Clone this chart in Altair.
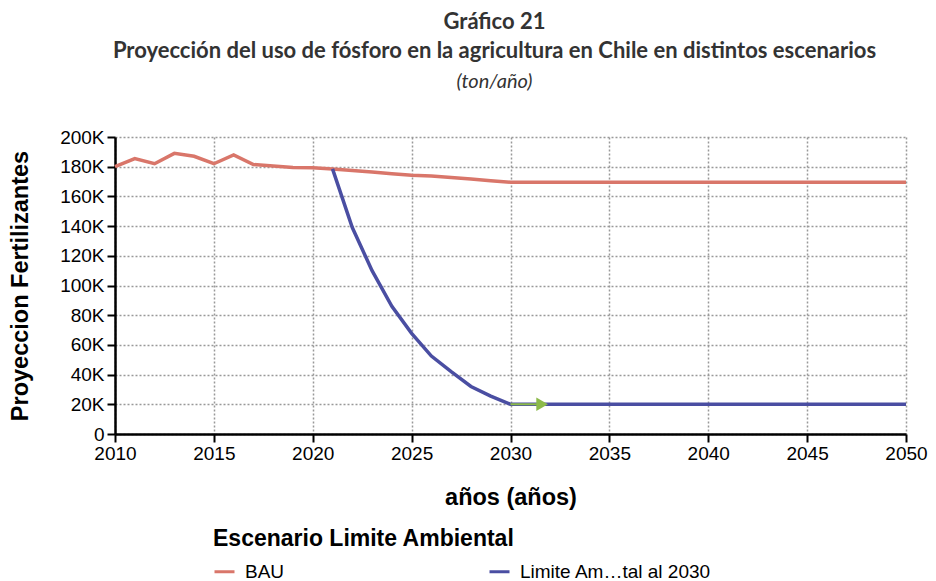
import altair as alt
import pandas as pd

years = list(range(2010, 2051))
bau_k = [180, 185.5, 182, 189, 187, 182, 188, 181.5, 180.5, 179.5, 179.3,
         178.5, 177.5, 176.5, 175.3, 174.2, 173.8, 172.7, 171.7, 170.6, 169.5] + [169.5] * 20
lim_years = list(range(2021, 2051))
lim_k = [178.5, 139, 110, 86, 67.8, 52.5, 42, 32, 25.5, 20] + [20] * 20

series_names = ["BAU", "Limite Am…tal al 2030"]
series_colors = ["#d9766a", "#4a4ea2"]

x_ticks = list(range(2010, 2051, 5))
y_ticks = list(range(0, 200001, 20000))

arrow_x = [2030, 2031.6]
arrow_y = [20000, 20000]

rows = []
for y, v in zip(years, bau_k):
    rows.append({"year": y, "value": v * 1000, "serie": series_names[0]})
for y, v in zip(lim_years, lim_k):
    rows.append({"year": y, "value": v * 1000, "serie": series_names[1]})
df = pd.DataFrame(rows)

arrow_df = pd.DataFrame({"year": [arrow_x[0]], "year2": [arrow_x[1]], "value": [arrow_y[0]]})
head_df = pd.DataFrame({"year": [arrow_x[1]], "value": [arrow_y[1]]})

xscale = alt.Scale(domain=[2010, 2050], nice=False, zero=False)
yscale = alt.Scale(domain=[0, 200000], nice=False)

x_axis = alt.Axis(values=x_ticks, format="d", title="años (años)", titlePadding=22,
                  labelPadding=2, labelOverlap=False, labelFlush=False, tickCount=9)
y_axis = alt.Axis(values=y_ticks, tickCount=11,
                  labelExpr="datum.value == 0 ? '0' : (datum.value/1000) + 'K'",
                  title="Proyeccion Fertilizantes", titlePadding=27,
                  labelPadding=3, labelOverlap=False, labelFlush=False)

X = alt.X("year:Q", scale=xscale, axis=x_axis)
Y = alt.Y("value:Q", scale=yscale, axis=y_axis)

lines = alt.Chart(df).mark_line(strokeWidth=3.5).encode(
    x=X, y=Y,
    color=alt.Color("serie:N", sort=series_names,
                    scale=alt.Scale(domain=series_names, range=series_colors),
                    legend=alt.Legend(title="Escenario Limite Ambiental", orient="none",
                                      legendX=98, legendY=391, columns=2,
                                      columnPadding=198, symbolType="stroke",
                                      symbolSize=400, symbolStrokeWidth=3,
                                      labelFontSize=19, labelFont="Liberation Sans",
                                      labelColor="#000", labelOffset=9,
                                      titleFontSize=23, titleFont="Liberation Sans",
                                      titleFontWeight="bold", titleColor="#000",
                                      titlePadding=9, titleLimit=600, labelLimit=400)),
)

arrow_line = alt.Chart(arrow_df).mark_rule(color="#8cba4a", strokeWidth=2).encode(
    x=X, x2="year2:Q", y=Y
)
arrow_head = alt.Chart(head_df).mark_point(shape="triangle-right", filled=True,
                                           color="#8cba4a", size=180, opacity=1).encode(
    x=X, y=Y
)

chart = alt.layer(lines, arrow_line, arrow_head).properties(
    width=791, height=297,
    autosize=alt.AutoSizeParams(type="none"),
    padding={"left": 107, "top": 129, "right": 22, "bottom": 148},
    title=alt.TitleParams(
        text=["Gráfico 21", "Proyección del uso de fósforo en la agricultura en Chile en distintos escenarios"],
        subtitle="(ton/año)",
        anchor="middle", frame="group", dx=-16, offset=35,
        font="Lato", fontSize=22, fontWeight="bold", color="#333333", lineHeight=29,
        subtitleFont="Lato", subtitleFontSize=20, subtitleFontStyle="italic",
        subtitleColor="#333333", subtitlePadding=9,
    ),
).configure_view(stroke=None).configure_axis(
    domainColor="#000", domainWidth=2.5, tickColor="#000", tickWidth=2, tickSize=8,
    labelFont="Liberation Sans", labelFontSize=19, labelColor="#000",
    titleFont="Liberation Sans", titleFontSize=23.5, titleFontWeight="bold", titleColor="#000",
    gridColor="#999999", gridDash=[2, 2], gridWidth=1.5,
)

chart.save("out.html", embed_options={"renderer": "svg", "actions": False})
